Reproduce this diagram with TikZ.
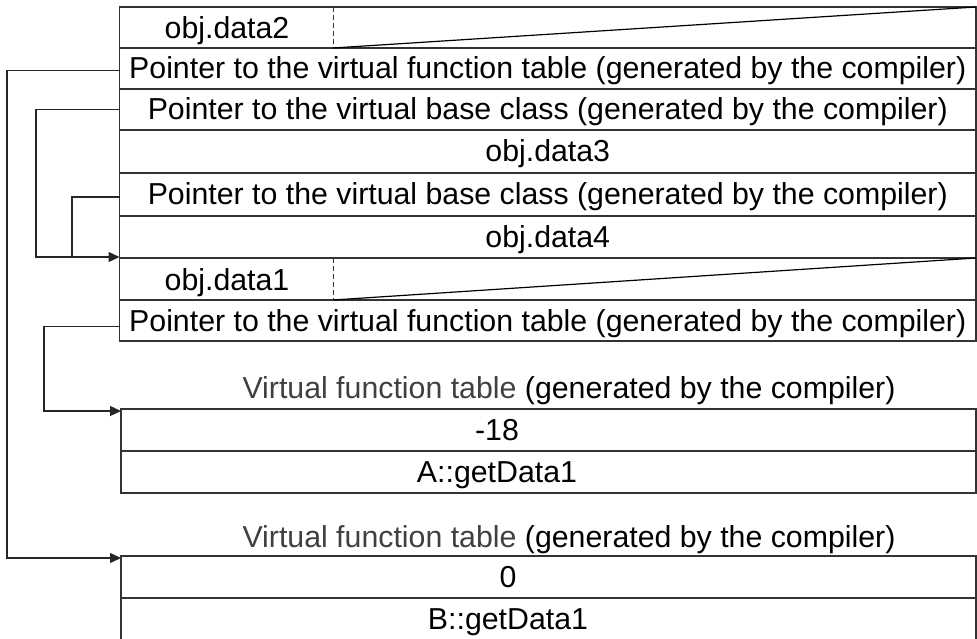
\documentclass[tikz,border=0pt]{standalone}
\usepackage{fontspec}
\setmainfont{Liberation Sans}
\usetikzlibrary{arrows.meta,calc}
\definecolor{linec}{HTML}{333333}
\definecolor{titlec}{HTML}{404040}
\begin{document}
\begin{tikzpicture}[x=1pt,y=-1pt,
  every node/.style={font=\fontsize{30.3}{36}\selectfont, inner sep=0pt, outer sep=0pt, text height=21pt, text depth=0pt},
  cell/.style={draw=linec, line width=1.3pt, rectangle, minimum width=856.5pt},
  vcell/.style={draw=linec, line width=1.3pt, rectangle, minimum width=855pt},
  sepline/.style={draw=linec, line width=1pt, dash pattern=on 5pt off 3pt},
  diag/.style={draw=black, line width=1.2pt},
  conn/.style={draw=black!85, line width=1.3pt},
  arr/.style={conn, -{Triangle[length=11pt,width=10pt]}},
]
\useasboundingbox (0,0) rectangle (977,639);
% main object layout
\node[cell, minimum height=41pt] (r1) at (547.75,27.5) {};
\node[cell, minimum height=41pt] (r2) at (547.75,68.5) {Pointer to the virtual function table (generated by the compiler)};
\node[cell, minimum height=41pt] (r3) at (547.75,109.5) {Pointer to the virtual base class (generated by the compiler)};
\node[cell, minimum height=43pt] (r4) at (547.75,151.5) {obj.data3};
\node[cell, minimum height=43pt] (r5) at (547.75,194.5) {Pointer to the virtual base class (generated by the compiler)};
\node[cell, minimum height=42pt] (r6) at (547.75,237) {obj.data4};
\node[cell, minimum height=42pt] (r7) at (547.75,279) {};
\node[cell, minimum height=41pt] (r8) at (547.75,320.5) {Pointer to the virtual function table (generated by the compiler)};
\node (t1) at (227,28.5) {obj.data2};
\node (t7) at (227,280) {obj.data1};
\coordinate (s) at (333,0);
\draw[sepline] (s |- r1.north) -- (s |- r1.south);
\draw[diag] (s |- r1.south) -- (r1.north east);
\draw[sepline] (s |- r7.north) -- (s |- r7.south);
\draw[diag] (s |- r7.south) -- (r7.north east);
% virtual function table 1
\node (vt1) at (569,387.5) {\textcolor{titlec}{Virtual function table} (generated by the compiler)};
\node[vcell, minimum height=42pt] (v1a) at (548.5,430) {};
\node[vcell, minimum height=42pt] (v1b) at (548.5,472) {};
\node (v1at) at (497,430) {-18};
\node (v1bt) at (497,472) {A::getData1};
% virtual function table 2
\node (vt2) at (569,536.5) {\textcolor{titlec}{Virtual function table} (generated by the compiler)};
\node[vcell, minimum height=42pt] (v2a) at (548.5,577) {};
\node[vcell, minimum height=42pt] (v2b) at (548.5,619) {};
\node (v2at) at (508,577) {0};
\node (v2bt) at (508,619) {B::getData1};
% connectors
\coordinate (k1) at (7,0);
\coordinate (k2) at (36,0);
\coordinate (k3) at (72,0);
\coordinate (k4) at (44,0);
\coordinate (e1) at ($(v2a.north west)+(0,2)$);
\coordinate (e2) at ($(r7.north west)+(0,-1)$);
\coordinate (e4) at ($(v1a.north west)+(0,2)$);
\coordinate (p1) at ($(r2.west)+(0,2)$);
\coordinate (p5) at ($(r5.west)+(0,2.5)$);
\coordinate (p8) at ($(r8.west)+(0,6)$);
\draw[arr] (p1) -- (p1 -| k1) -- (e1 -| k1) -- (e1);
\draw[arr] (r3.west) -- (r3.west -| k2) -- (e2 -| k2) -- (e2);
\draw[conn] (p5) -- (p5 -| k3) -- (e2 -| k3);
\draw[arr] (p8) -- (p8 -| k4) -- (e4 -| k4) -- (e4);
\end{tikzpicture}
\end{document}
